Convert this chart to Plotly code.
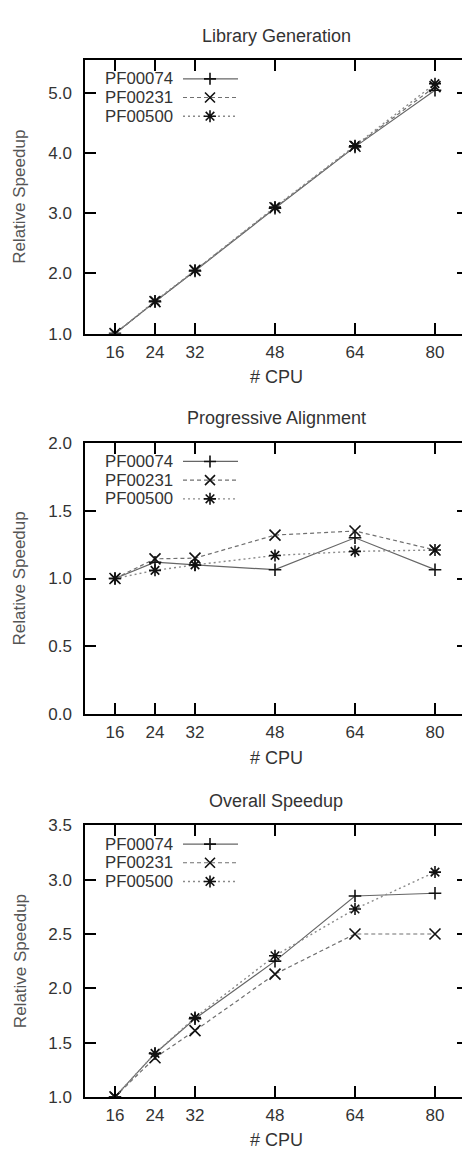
import plotly.graph_objects as go

# ---------------- data ----------------
cpus = [16, 24, 32, 48, 64, 80]
series_names = ["PF00074", "PF00231", "PF00500"]

lib_pf00074 = [1.0, 1.53, 2.04, 3.08, 4.10, 5.04]
lib_pf00231 = [1.0, 1.53, 2.05, 3.09, 4.11, 5.10]
lib_pf00500 = [1.0, 1.54, 2.05, 3.10, 4.12, 5.15]

prog_pf00074 = [1.0, 1.12, 1.10, 1.065, 1.30, 1.065]
prog_pf00231 = [1.0, 1.145, 1.15, 1.32, 1.35, 1.21]
prog_pf00500 = [1.0, 1.06, 1.10, 1.17, 1.20, 1.21]

over_pf00074 = [1.0, 1.40, 1.72, 2.25, 2.85, 2.875]
over_pf00231 = [1.0, 1.36, 1.61, 2.13, 2.50, 2.50]
over_pf00500 = [1.0, 1.40, 1.73, 2.30, 2.73, 3.07]

titles = ["Library Generation", "Progressive Alignment", "Overall Speedup"]
y_ticks = [[1.0, 2.0, 3.0, 4.0, 5.0],
           [0.0, 0.5, 1.0, 1.5, 2.0],
           [1.0, 1.5, 2.0, 2.5, 3.0, 3.5]]
y_ranges = [[1.0, 5.54], [0.0, 2.0], [1.0, 3.5]]
x_title = "# CPU"
y_title = "Relative Speedup"

panels = [
    [lib_pf00074, lib_pf00231, lib_pf00500],
    [prog_pf00074, prog_pf00231, prog_pf00500],
    [over_pf00074, over_pf00231, over_pf00500],
]

# ---------------- styling ----------------
W, H = 462, 1159
FONT = "Liberation Sans, Arial, Helvetica, sans-serif"
TXT = "#333333"
line_styles = [
    dict(color="#666666", width=1.2, dash="solid"),
    dict(color="#707070", width=1.2, dash="4px,3px"),
    dict(color="#8a8a8a", width=1.4, dash="2px,3px"),
]
marker_styles = [
    dict(symbol="cross-thin", size=9),
    dict(symbol="x-thin", size=11),
    dict(symbol="asterisk", size=10),
]
MK = "#111111"

panel_px = [(52, 330), (441, 717), (830, 1106)]
left_px = 85

def py(p):
    return 1 - p / H

fig = go.Figure()
layout = dict(
    width=W, height=H,
    margin=dict(l=0, r=0, t=0, b=0),
    paper_bgcolor="white", plot_bgcolor="white",
    showlegend=False,
    font=dict(family=FONT, size=17, color=TXT),
)

annotations = []
shapes = []
paths = {
    0: "M-6,0H6M0,-6V6",
    1: "M-5,-5L5,5M-5,5L5,-5",
    2: "M-6,0H6M0,-6V6M-4.3,-4.3L4.3,4.3M-4.3,4.3L4.3,-4.3",
}

for i, (vals, (top, bot)) in enumerate(zip(panels, panel_px)):
    n = i + 1
    xa = "x" if n == 1 else f"x{n}"
    ya = "y" if n == 1 else f"y{n}"
    ya_over = f"y{n + 3}"
    for j, v in enumerate(vals):
        fig.add_trace(go.Scatter(
            x=cpus, y=v, name=series_names[j], mode="lines+markers",
            xaxis=xa, yaxis=(ya_over if j == 2 else ya),
            line=line_styles[j],
            marker=dict(symbol=marker_styles[j]["symbol"], size=marker_styles[j]["size"],
                        color=MK, line=dict(color=MK, width=1.6)),
            hoverinfo="skip",
        ))
    dom = [py(bot), py(top)]
    layout[f"xaxis{'' if n == 1 else n}"] = dict(
        domain=[left_px / W, 1.0], range=[10, 85.4], anchor=ya,
        tickvals=cpus, ticks="inside", ticklen=11, tickwidth=1.5, tickcolor="black",
        showline=True, linecolor="black", linewidth=1.5, mirror="ticks",
        showgrid=False, zeroline=False, ticklabelstandoff=2,
        tickfont=dict(size=17, color=TXT),
    )
    layout[f"yaxis{'' if n == 1 else n}"] = dict(
        domain=dom, range=y_ranges[i], anchor=xa,
        tickvals=y_ticks[i], tickformat=".1f",
        ticks="inside", ticklen=11, tickwidth=1.5, tickcolor="black",
        showline=True, linecolor="black", linewidth=1.5,
        showgrid=False, zeroline=False, ticklabelstandoff=8,
        tickfont=dict(size=17, color=TXT),
    )
    layout[f"yaxis{n + 3}"] = dict(
        overlaying=ya, side="right", anchor="free", position=1.0,
        range=y_ranges[i], tickvals=y_ticks[i],
        ticks="inside", ticklen=5, tickwidth=1.5, tickcolor="black",
        showticklabels=False, showline=False, showgrid=False, zeroline=False,
    )
    cx = (left_px + 467) / 2 / W
    annotations.append(dict(text=titles[i], xref="paper", yref="paper",
                            x=cx, y=py(top - 25), xanchor="center", yanchor="middle",
                            showarrow=False, font=dict(size=18, color=TXT)))
    annotations.append(dict(text=x_title, xref="paper", yref="paper",
                            x=cx, y=py(bot + 44), xanchor="center", yanchor="middle",
                            showarrow=False, font=dict(size=18, color=TXT)))
    annotations.append(dict(text=y_title, xref="paper", yref="paper",
                            x=20 / W, y=py((top + bot) / 2), xanchor="center", yanchor="middle",
                            textangle=-90, showarrow=False, font=dict(size=17, color="#555555")))
    for j in range(3):
        ry = top + 38 + 19 * (j - 1)
        annotations.append(dict(text=series_names[j], xref="paper", yref="paper",
                                x=174 / W, y=py(ry), xanchor="right", yanchor="middle",
                                borderpad=0, showarrow=False,
                                font=dict(size=16.8, color=TXT)))
        ls = line_styles[j]
        shapes.append(dict(type="line", xref="paper", yref="paper",
                           x0=183 / W, x1=238 / W, y0=py(ry), y1=py(ry),
                           line=dict(color=ls["color"], width=ls["width"], dash=ls["dash"])))
        shapes.append(dict(type="path", xref="paper", yref="paper",
                           xsizemode="pixel", ysizemode="pixel",
                           xanchor=210 / W, yanchor=py(ry), path=paths[j],
                           line=dict(color=MK, width=1.6)))

layout["annotations"] = annotations
layout["shapes"] = shapes
fig.update_layout(**layout)
fig.write_html("out.html", config={"displayModeBar": False},
               post_script="document.body.style.margin='0';document.body.style.overflow='hidden';")
